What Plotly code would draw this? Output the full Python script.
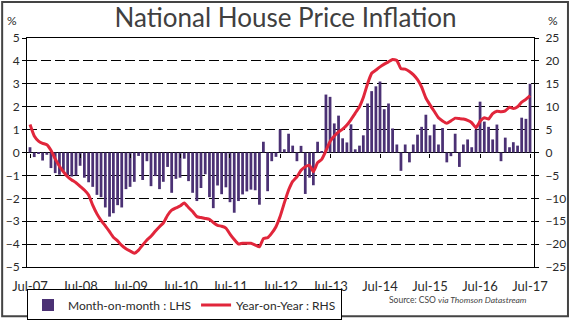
import pandas as pd
import plotly.graph_objects as go

# Monthly data, Jul-2007 .. Jul-2017
months = pd.date_range("2007-07-01", periods=121, freq="MS")

mom = [0.23, -0.2, -0.05, -0.35, -0.1, -0.68, -0.9, -0.97, -0.8, -1.0,
       -1.05, -1.0, -0.58, -1.1, -1.3, -1.5, -1.85, -1.95, -2.4, -2.8,
       -2.65, -2.3, -2.4, -1.6, -1.5, -1.28, -0.15, -1.2, -0.38, -1.47,
       -1.03, -1.6, -1.28, -0.63, -1.76, -1.15, -1.1, -0.27, -1.25, -1.76,
       -2.12, -1.55, -0.95, -1.95, -2.43, -1.44, -1.82, -1.52, -2.17, -2.63,
       -2.12, -1.83, -1.7, -1.62, -1.65, -2.28, 0.47, -1.69, -0.38, -0.19,
       1.0, 0.14, 0.82, 0.3, -0.38, 0.29, -1.81, -1.1, -1.43, 0.47,
       0.05, 2.53, 2.43, 1.27, 1.61, 0.62, 0.44, 1.23, 0.14, 0.3,
       0.75, 2.14, 2.68, 2.89, 3.1, 1.89, 2.14, 1.05, 0.35, -0.8,
       0.35, -0.43, 0.35, 0.78, 1.12, 1.65, 0.75, 1.22, 0.35, 1.07,
       -0.43, -0.16, 0.82, -0.63, 0.35, 0.57, 0.23, 1.0, 2.22, 1.35,
       1.12, 0.57, 1.22, -0.38, 0.65, 0.23, 0.45, 0.3, 1.52, 1.47,
       3.0]

yoy = [6.1, 3.6, 2.5, 2.0, 1.7, 0.5, -1.4, -3.0, -4.2, -5.3,
       -6.0, -6.6, -7.4, -8.2, -9.3, -11.5, -13.4, -14.8, -16.0, -17.3,
       -18.5, -19.3, -20.3, -21.0, -21.5, -22.0, -21.3, -20.2, -19.1, -18.3,
       -17.2, -16.2, -15.4, -13.7, -12.6, -12.1, -11.7, -11.0, -12.0, -12.9,
       -14.0, -14.2, -14.4, -14.6, -15.3, -15.9, -16.1, -16.5, -17.8, -19.0,
       -20.0, -19.8, -19.8, -19.8, -20.2, -20.6, -18.8, -18.6, -17.6, -16.2,
       -14.0, -11.0, -8.2, -6.3, -5.3, -3.9, -3.1, -2.8, -4.2, -2.2,
       -1.5, 0.4, 2.4, 3.6, 4.5, 5.1, 6.0, 7.2, 8.6, 10.0,
       12.0, 15.0, 17.3, 18.0, 18.7, 19.3, 19.8, 20.3, 20.1, 18.3,
       18.2, 17.7, 17.0, 15.9, 14.3, 11.9, 10.4, 9.0, 7.6, 6.9,
       6.4, 6.9, 7.5, 7.4, 7.3, 7.0, 6.5, 5.4, 6.8, 7.6,
       7.3, 8.5, 9.0, 8.9, 9.1, 9.9, 9.6, 10.0, 11.0, 11.6,
       12.4]

left_ticks = [5, 4, 3, 2, 1, 0, -1, -2, -3, -4, -5]
right_ticks = [25, 20, 15, 10, 5, 0, -5, -10, -15, -20, -25]
x_ticks = pd.date_range("2007-07-01", periods=11, freq="12MS")
x_labels = ["Jul-07", "Jul-08", "Jul-09", "Jul-10", "Jul-11", "Jul-12",
            "Jul-13", "Jul-14", "Jul-15", "Jul-16", "Jul-17"]

BAR = "#4B3174"
LINE = "#E1263B"
FONT = "Lato"
TXT = "#2a2a2a"
XR = ["2007-06-09", "2017-07-30"]

fig = go.Figure()
fig.add_trace(go.Bar(x=months, y=mom, name="Month-on-month : LHS",
                     marker=dict(color=BAR, line=dict(width=0)), yaxis="y"))
fig.add_trace(go.Scatter(x=months, y=yoy, name="Year-on-Year : RHS", mode="lines",
                         line=dict(color=LINE, width=3, shape="spline", smoothing=0.4),
                         yaxis="y2"))
# tick-only axis along the zero line
fig.add_trace(go.Scatter(x=[months[0]], y=[None], xaxis="x2", yaxis="y",
                         showlegend=False, hoverinfo="skip"))

fig.update_layout(
    width=571, height=321,
    margin=dict(l=27, r=37, t=38, b=54, autoexpand=False),
    paper_bgcolor="white", plot_bgcolor="white",
    font=dict(family=FONT, color=TXT, size=12),
    bargap=0.28,
    showlegend=True,
    title=dict(text="National House Price Inflation", x=0.5, xanchor="center",
               y=1 - 18 / 321, yanchor="middle", automargin=False,
               font=dict(family=FONT, size=26, color="#404040")),
    xaxis=dict(
        range=XR, automargin=False,
        tickvals=list(x_ticks), ticktext=x_labels,
        showgrid=False, zeroline=False,
        showline=True, linecolor="black", linewidth=1, mirror=True,
        ticks="", ticklabelstandoff=7,
        tickfont=dict(size=13, color=TXT, family=FONT),
    ),
    xaxis2=dict(
        overlaying="x", anchor="free", position=0.5, automargin=False,
        range=XR,
        tickvals=list(x_ticks), ticks="outside", ticklen=4, tickcolor="black",
        showticklabels=False, showgrid=False, zeroline=False, showline=False,
    ),
    yaxis=dict(
        range=[-5, 5], tickvals=left_ticks, automargin=False,
        showgrid=True, gridcolor="black", gridwidth=1, griddash="10px,4px",
        zeroline=True, zerolinecolor="black", zerolinewidth=1,
        showline=True, linecolor="black", linewidth=1,
        ticks="outside", ticklen=4, tickcolor="black",
        tickfont=dict(size=12, color=TXT, family=FONT),
    ),
    yaxis2=dict(
        range=[-25, 25], tickvals=right_ticks, overlaying="y", side="right",
        automargin=False,
        showgrid=False, zeroline=False,
        showline=True, linecolor="black", linewidth=1,
        ticks="outside", ticklen=4, tickcolor="black", ticklabelstandoff=4,
        tickfont=dict(size=12, color=TXT, family=FONT),
    ),
    legend=dict(orientation="h", x=0, xanchor="left", y=-0.098, yanchor="top",
                bordercolor="black", borderwidth=1, bgcolor="white",
                font=dict(size=12, color=TXT, family=FONT),
                itemwidth=30, tracegroupgap=0),
)

fig.add_annotation(text="%", xref="paper", yref="paper", x=-0.03, y=1.078,
                   xanchor="center", yanchor="middle",
                   showarrow=False, font=dict(size=12, color=TXT, family=FONT))
fig.add_annotation(text="%", xref="paper", yref="paper", x=1.037, y=1.078,
                   xanchor="center", yanchor="middle",
                   showarrow=False, font=dict(size=12, color=TXT, family=FONT))
fig.add_annotation(text="Source: CSO <i>via Thomson Datastream</i>",
                   xref="paper", yref="paper", x=0.99, y=-0.145,
                   xanchor="right", yanchor="middle", showarrow=False,
                   font=dict(size=8.5, color="#444444", family=FONT))

# outer frame
fig.add_shape(type="rect", xref="paper", yref="paper",
              x0=-0.049, x1=1.067, y0=-0.215, y1=1.157,
              line=dict(color="#444444", width=2), layer="below")

fig.write_html("out.html")
